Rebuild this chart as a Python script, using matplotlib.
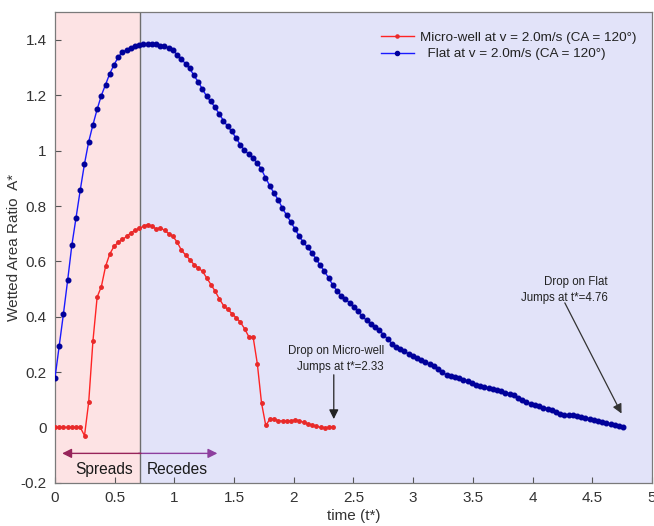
import numpy as np
import matplotlib
matplotlib.use("Agg")
import matplotlib.pyplot as plt
from matplotlib.ticker import FuncFormatter

plt.rcParams['font.family'] = ['Liberation Sans', 'DejaVu Sans']

# ---------------- data ----------------
flat_end_t = 4.76
well_end_t = 2.33

flat_vals = [
    0.179, 0.293, 0.410, 0.531, 0.658, 0.757, 0.858, 0.952, 1.032, 1.093,
    1.149, 1.199, 1.238, 1.278, 1.310, 1.337, 1.357, 1.363, 1.372, 1.377,
    1.382, 1.386, 1.386, 1.386,
    1.384, 1.380, 1.377, 1.372, 1.363, 1.347, 1.332, 1.314, 1.297,
    1.272, 1.249, 1.223, 1.197, 1.178, 1.157, 1.133, 1.109, 1.088, 1.070,
    1.046, 1.022, 1.001, 0.988, 0.974, 0.956, 0.934, 0.902, 0.874, 0.847,
    0.823,
    0.793, 0.767, 0.743, 0.717, 0.691, 0.669, 0.651, 0.631, 0.609, 0.586,
    0.564, 0.540, 0.514, 0.493, 0.476, 0.463, 0.450, 0.434, 0.419, 0.401,
    0.387, 0.374, 0.363, 0.353, 0.335, 0.320,
    0.303, 0.291, 0.283, 0.275, 0.266, 0.257, 0.249, 0.242, 0.235, 0.228,
    0.221, 0.211, 0.199, 0.190, 0.184, 0.182, 0.179, 0.172, 0.166, 0.159,
    0.153, 0.148, 0.145, 0.141, 0.139, 0.135, 0.130, 0.124,
    0.122, 0.116, 0.106, 0.098, 0.090, 0.086, 0.080, 0.076, 0.071, 0.068,
    0.061, 0.054, 0.050, 0.043, 0.043, 0.045, 0.042, 0.038, 0.034, 0.031,
    0.028, 0.024, 0.021, 0.016, 0.011, 0.007, 0.004, 0.001,
]

well_vals = [
    0.0, 0.0, 0.0, 0.0, 0.0, 0.0, 0.0, -0.030,
    0.092, 0.312, 0.471, 0.509, 0.582, 0.627, 0.654, 0.669, 0.679, 0.690,
    0.703, 0.712, 0.719, 0.727, 0.733, 0.727, 0.717, 0.721, 0.712, 0.700,
    0.690, 0.669, 0.640, 0.623, 0.606,
    0.588, 0.576, 0.564, 0.540, 0.516, 0.492, 0.464, 0.440, 0.426, 0.411,
    0.396, 0.380, 0.356, 0.327, 0.327, 0.230, 0.088, 0.007, 0.030, 0.030,
    0.024, 0.023, 0.023, 0.024, 0.027, 0.024, 0.018, 0.013, 0.009, 0.004,
    0.000, -0.001, 0.000, 0.003,
]

flat_t = np.linspace(0, flat_end_t, len(flat_vals))
well_t = np.linspace(0, well_end_t, len(well_vals))

spread_end = 0.71
xticks = [0, 0.5, 1, 1.5, 2, 2.5, 3, 3.5, 4, 4.5, 5]
yticks = [-0.2, 0, 0.2, 0.4, 0.6, 0.8, 1.0, 1.2, 1.4]

label_well = "Micro-well at v = 2.0m/s (CA = 120\u00b0)"
label_flat = "  Flat at v = 2.0m/s (CA = 120\u00b0)"

# ---------------- figure ----------------
fig = plt.figure(figsize=(6.54, 5.26), dpi=100)
ax = fig.add_axes([0.0841, 0.0823, 0.9128, 0.8943])

ax.set_xlim(0, 5)
ax.set_ylim(-0.2, 1.5)

ax.axvspan(0, spread_end, color='#fde3e4', zorder=0, lw=0)
ax.axvspan(spread_end, 5, color='#e2e3f9', zorder=0, lw=0)
ax.axvline(spread_end, color='#6e6e6e', lw=1.0, zorder=1)

ax.plot(well_t, well_vals, '-o', color='#ff2424', lw=1.0, ms=2.5,
        mfc='#e82a2a', mec='#e82a2a', label=label_well, zorder=3)
ax.plot(flat_t, flat_vals, '-o', color='#1a1aff', lw=1.0, ms=3.3,
        mfc='#00009a', mec='#00009a', label=label_flat, zorder=3)

# spreads / recedes double arrow
ax.annotate('', xy=(1.36, -0.094), xytext=(0.70, -0.094),
            arrowprops=dict(arrowstyle='-|>', color='#8d3f9e', lw=1.0,
                            mutation_scale=14, shrinkA=0, shrinkB=0))
ax.annotate('', xy=(0.06, -0.094), xytext=(0.72, -0.094),
            arrowprops=dict(arrowstyle='-|>', color='#97245a', lw=1.0,
                            mutation_scale=14, shrinkA=0, shrinkB=0))
ax.text(0.41, -0.151, 'Spreads', ha='center', va='center', fontsize=11.2, color='#1a1a1a')
ax.text(1.02, -0.151, 'Recedes', ha='center', va='center', fontsize=11.2, color='#1a1a1a')

# jump annotations
ax.text(2.755, 0.248, 'Drop on Micro-well\nJumps at t*=2.33', ha='right', va='center',
        fontsize=8.3, color='#222222', linespacing=1.45)
ax.annotate('', xy=(2.335, 0.03), xytext=(2.335, 0.19),
            arrowprops=dict(arrowstyle='-|>', color='#222222', lw=0.9,
                            mutation_scale=14, shrinkA=0, shrinkB=0))
ax.text(4.63, 0.497, 'Drop on Flat\nJumps at t*=4.76', ha='right', va='center',
        fontsize=8.3, color='#222222', linespacing=1.45)
ax.annotate('', xy=(4.745, 0.05), xytext=(4.27, 0.45),
            arrowprops=dict(arrowstyle='-|>', color='#333333', lw=0.9,
                            mutation_scale=14, shrinkA=0, shrinkB=0))

ax.set_xticks(xticks)
ax.set_yticks(yticks)
fmt = FuncFormatter(lambda v, p: ('%g' % round(v, 2)))
ax.xaxis.set_major_formatter(fmt)
ax.yaxis.set_major_formatter(fmt)
ax.tick_params(direction='in', length=4, width=0.8, color='#555555',
               labelsize=11, labelcolor='#333333', pad=6)

for s in ax.spines.values():
    s.set_color('#7a7a7a')
    s.set_linewidth(0.9)

ax.set_xlabel('time (t*)', fontsize=11, color='#333333', labelpad=3)
ax.set_ylabel('Wetted Area Ratio  A*', fontsize=11, color='#333333')
ax.yaxis.set_label_coords(-0.057, 0.5)

leg = ax.legend(loc='upper right', bbox_to_anchor=(0.995, 0.985), frameon=False,
                fontsize=9.7, handlelength=2.45, handletextpad=0.5,
                labelspacing=0.3, markerscale=0.9)
for t in leg.get_texts():
    t.set_color('#222222')

fig.savefig('out.png', dpi=100)
